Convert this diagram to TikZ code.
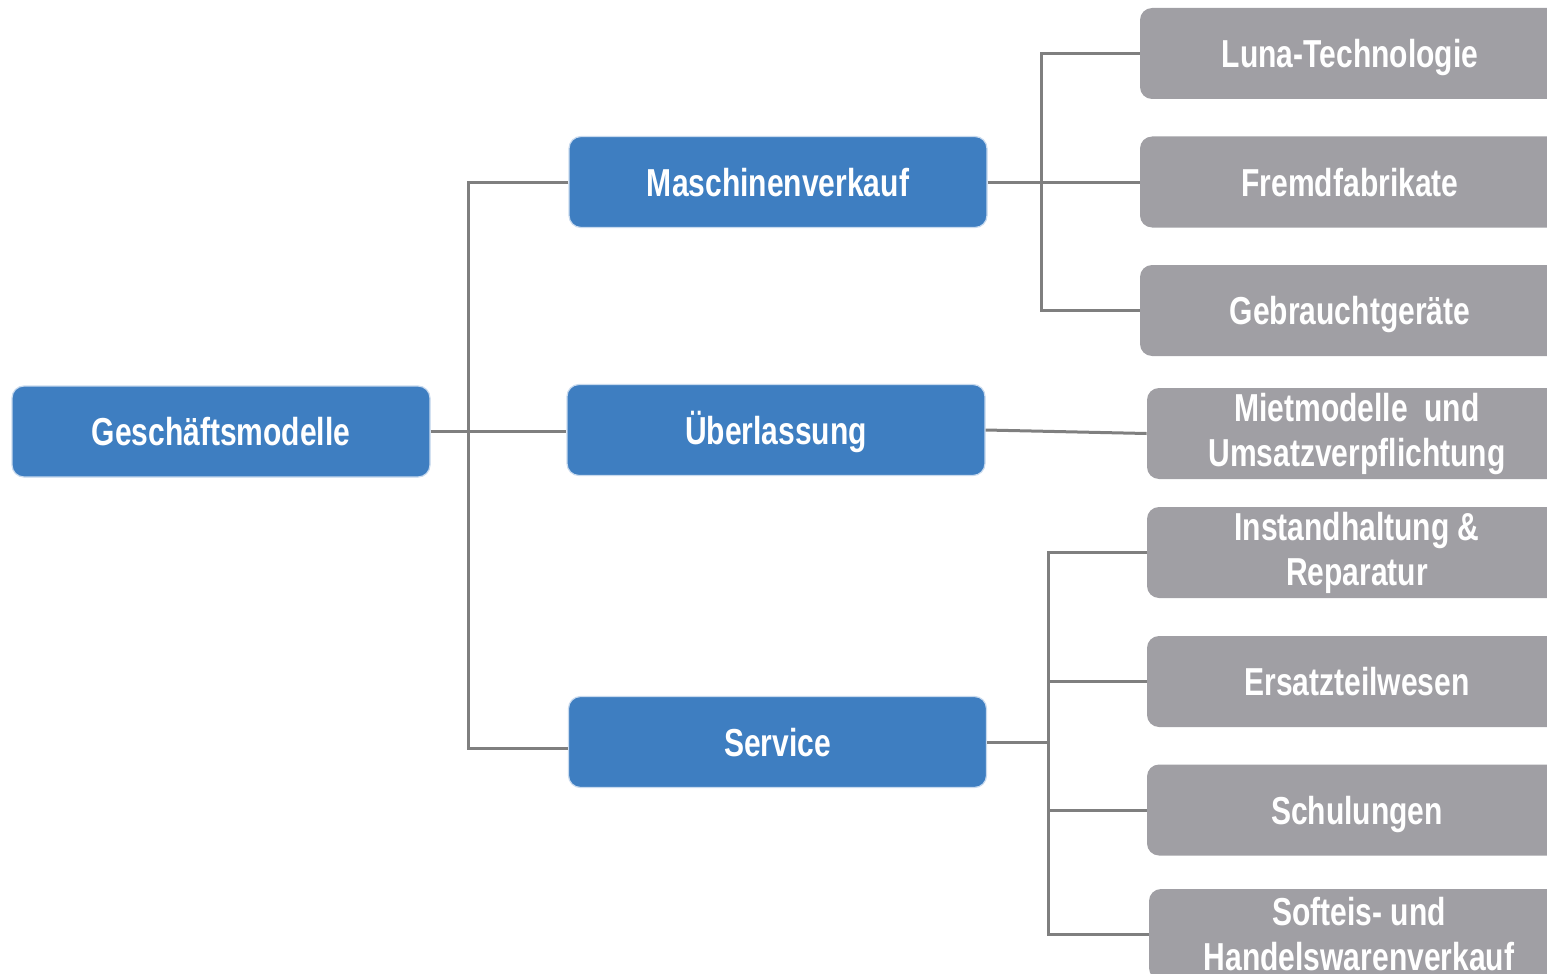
\documentclass[tikz,border=0pt]{standalone}
\usepackage{fontspec}
\newfontfamily\boxfont[FakeStretch=0.77]{Liberation Sans}
\definecolor{modelblue}{RGB}{62,126,193}
\definecolor{edgeblue}{RGB}{200,218,238}
\definecolor{modelgrey}{RGB}{160,159,164}
\definecolor{linegrey}{RGB}{127,127,127}
\begin{document}
\begin{tikzpicture}[x=0.5pt, y=-0.5pt,
  every node/.style={font=\boxfont\bfseries\fontsize{19.5}{22.5}\selectfont, text=white, align=center},
  oneline/.style={text height=14pt, text depth=0pt},
  bluebox/.style={fill=modelblue, draw=edgeblue, line width=0.6pt, rounded corners=6pt, minimum width=209pt, minimum height=45.5pt, inner sep=0pt, oneline},
  greybox/.style={fill=modelgrey, rounded corners=6pt, minimum width=210pt, minimum height=45.5pt, inner sep=0pt},
  link/.style={draw=linegrey, line width=1.5pt}]
\useasboundingbox (0,0) rectangle (1547,974);
\clip (0,0) rectangle (1547,974);

% blue levels
\node[bluebox] (gm) at (221,431.5) {Geschäftsmodelle};
\node[bluebox] (mv) at (778,182) {Maschinenverkauf};
\node[bluebox] (ub) at (776,430) {Überlassung};
\node[bluebox] (sv) at (777.5,742) {Service};

% grey leaves
\foreach \n/\x/\y/\t in {
luna/1350/53.5/{Luna-Technologie},
fremd/1350/182/{Fremdfabrikate},
gebr/1350/310.5/{Gebrauchtgeräte},
ersatz/1357/681.5/{Ersatzteilwesen},
schul/1357/810/{Schulungen}}
\node[greybox, oneline] (\n) at (\x,\y) {\t};

\foreach \n/\x/\y/\t in {
miet/1357/433.5/{Mietmodelle\ \ und\\Umsatzverpflichtung},
inst/1357/552.5/{Instandhaltung \&\\Reparatur},
soft/1359/934.5/{Softeis- und\\Handelswarenverkauf}}
\node[greybox] (\n) at (\x,\y) {\t};

% trunks
\coordinate (t1) at (468,431.5);
\coordinate (t2) at (1041,182);
\coordinate (t3) at (1048,742);

\draw[link] (gm.east) -- (gm.east -| ub.west);
\draw[link] (mv.west) -| (t1) |- ([yshift=-3pt]sv.west);

\draw[link] (mv.east) -- (fremd.west);
\draw[link] (luna.west) -| (t2) |- (gebr.west);

\draw[link] (ub.east) -- (miet.west);

\draw[link] (sv.east) -- (t3);
\draw[link] (inst.west) -| (t3) |- (soft.west);
\draw[link] (ersatz.west) -- (ersatz.west -| t3);
\draw[link] (schul.west) -- (schul.west -| t3);
\end{tikzpicture}
\end{document}
